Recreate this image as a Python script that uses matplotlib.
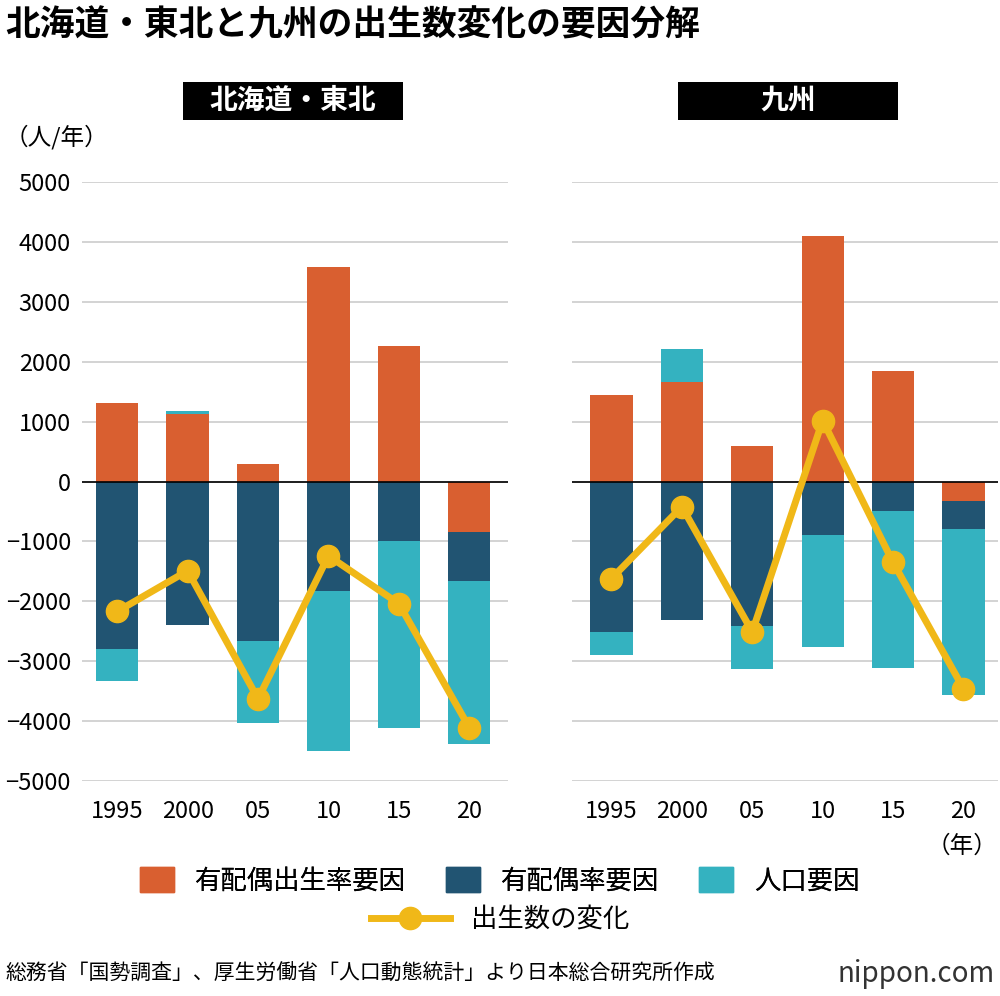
import matplotlib.pyplot as plt
import numpy as np
from matplotlib.patches import Patch, Rectangle
from matplotlib.lines import Line2D

plt.rcParams['font.family'] = ['Noto Sans CJK JP', 'DejaVu Sans']

years = ['1995', '2000', '05', '10', '15', '20']
panels = ['北海道・東北', '九州']
# 有配偶出生率要因, 有配偶率要因, 人口要因, 出生数の変化
fert_l = [1320, 1130, 300, 3580, 2270, -840]
marr_l = [-2790, -2390, -2660, -1820, -990, -820]
pop_l = [-540, 50, -1370, -2680, -3120, -2720]
chg_l = [-2170, -1490, -3630, -1240, -2040, -4110]
fert_r = [1440, 1660, 590, 4110, 1840, -330]
marr_r = [-2510, -2310, -2420, -890, -500, -470]
pop_r = [-380, 560, -710, -1870, -2610, -2760]
chg_r = [-1620, -420, -2510, 1020, -1350, -3460]

c_fert, c_marr, c_pop, c_line = '#D95F30', '#215472', '#34B2C0', '#F0B818'

fig = plt.figure(figsize=(10, 9.96), dpi=100)
axes = [fig.add_axes([0.082, 0.216, 0.426, 0.601]),
        fig.add_axes([0.572, 0.216, 0.426, 0.601])]
data = [(fert_l, marr_l, pop_l, chg_l), (fert_r, marr_r, pop_r, chg_r)]
x = np.arange(len(years))
box_x = [0.183, 0.678]
xlims = [(-0.5, 5.55), (-0.56, 5.49)]

for ax, (f, m, p, c), name, bx, xl in zip(axes, data, panels, box_x, xlims):
    pos = np.zeros(len(x))
    neg = np.zeros(len(x))
    for vals, col in [(f, c_fert), (m, c_marr), (p, c_pop)]:
        v = np.array(vals, dtype=float)
        bottom = np.where(v >= 0, pos, neg)
        ax.bar(x, v, 0.6, bottom=bottom, color=col, zorder=2)
        pos = pos + np.where(v >= 0, v, 0)
        neg = neg + np.where(v < 0, v, 0)
    ax.plot(x, c, color=c_line, lw=5, marker='o', ms=16, zorder=3)
    ax.axhline(0, color='black', lw=1.2, zorder=2.5)
    ax.set_ylim(-5000, 5000)
    ax.set_xlim(*xl)
    ax.set_yticks(range(-5000, 5001, 1000))
    ax.grid(axis='y', color='#cccccc', lw=1.2, zorder=0)
    for s in ax.spines.values():
        s.set_visible(False)
    ax.tick_params(length=0, labelsize=17, pad=8)
    ax.set_xticks(x, years)
    ax.tick_params(axis='x', pad=14)
    fig.add_artist(Rectangle((bx, 0.880), 0.220, 0.038, transform=fig.transFigure,
                             fc='black', ec='none'))
    fig.text(bx + 0.110, 0.899, name, ha='center', va='center', fontsize=20,
             fontweight='bold', color='white')

axes[1].set_yticklabels([])

fig.text(0.005, 0.975, '北海道・東北と九州の出生数変化の要因分解', fontsize=25,
         fontweight='bold', va='center')
fig.text(0.005, 0.862, '（人/年）', fontsize=17, va='center')
fig.text(0.962, 0.150, '（年）', fontsize=17, va='center', ha='center')

h1 = [Patch(color=c_fert), Patch(color=c_marr), Patch(color=c_pop)]
leg1 = fig.legend(h1, ['有配偶出生率要因', '有配偶率要因', '人口要因'], ncol=3,
                  loc='center', bbox_to_anchor=(0.5, 0.116), frameon=False,
                  fontsize=19, handlelength=1.3, handleheight=1.1, columnspacing=1.5)
fig.add_artist(leg1)
h2 = [Line2D([], [], color=c_line, lw=5, marker='o', ms=16)]
fig.legend(h2, ['出生数の変化'], loc='center', bbox_to_anchor=(0.5, 0.077),
           frameon=False, fontsize=19, handlelength=3)

fig.text(0.005, 0.022, '総務省「国勢調査」、厚生労働省「人口動態統計」より日本総合研究所作成',
         fontsize=15, va='center')
fig.text(0.995, 0.022, 'nippon.com', fontsize=20, va='center', ha='right', color='#333333')

fig.savefig('out.png')
